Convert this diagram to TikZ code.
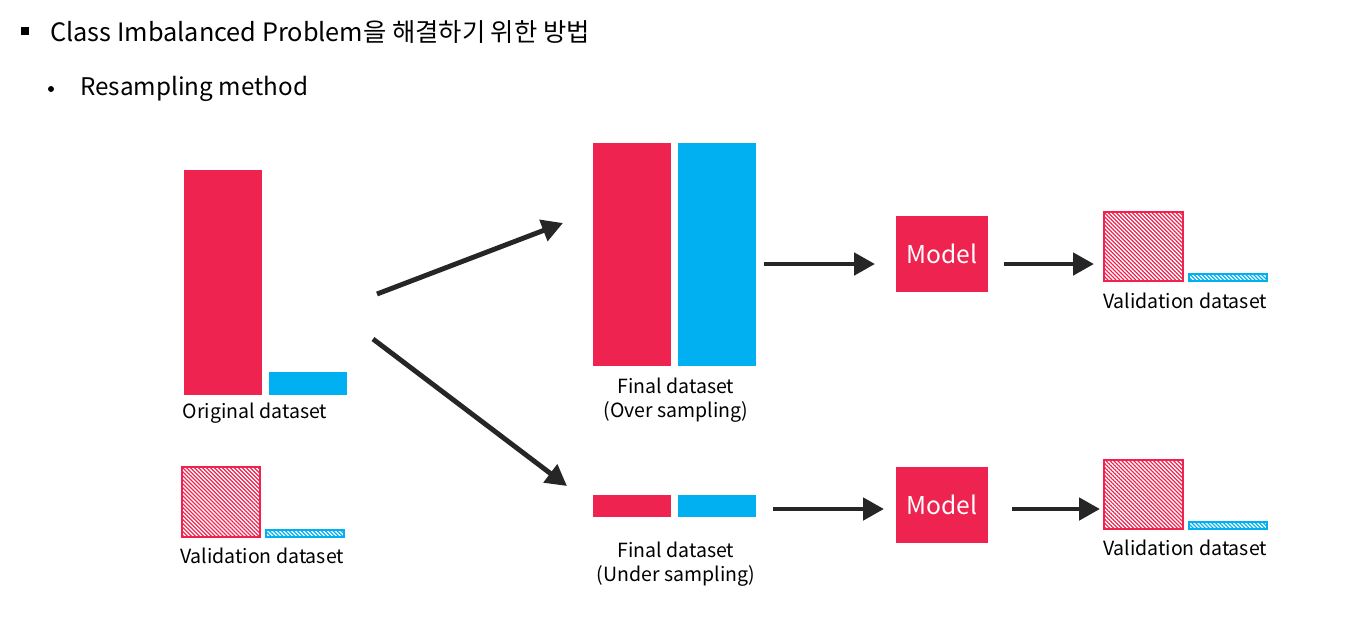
\documentclass[tikz,border=0pt]{standalone}
\usepackage{fontspec}
\setmainfont{Noto Sans CJK KR}
\usepackage{xcolor}
\usetikzlibrary{arrows.meta,patterns.meta}
\definecolor{barred}{HTML}{EE2350}
\definecolor{barblue}{HTML}{00B0F0}
\definecolor{arrgray}{HTML}{262626}
\tikzset{
  bar/.style={anchor=south west,inner sep=0pt,outer sep=0pt,minimum width=1.57cm},
  redbar/.style={bar,fill=barred},
  bluebar/.style={bar,fill=barblue},
  hatchred/.style={bar,draw=barred,line width=0.6pt,pattern={Lines[angle=-45,distance=1.6pt,line width=0.7pt]},pattern color=barred},
  hatchblue/.style={bar,draw=barblue,line width=0.6pt,pattern={Lines[angle=-45,distance=1.6pt,line width=0.7pt]},pattern color=barblue},
  model/.style={fill=barred,text=white,minimum width=1.84cm,minimum height=1.52cm,inner sep=0pt,font=\fontsize{14}{16}\selectfont},
  lbl/.style={align=center,font=\fontsize{11.1}{13.6}\selectfont},
  arr/.style={arrgray,line width=2.8pt,-{Triangle[length=0.42cm,width=0.44cm]}}
}
\begin{document}
\begin{tikzpicture}[x=0.02cm,y=-0.02cm]
\useasboundingbox (0,0) rectangle (1357,627);
% heading
\fill (21,27) rectangle (29,35);
\draw (50,32) node[anchor=west,inner sep=0pt,font=\fontsize{14.4}{17}\selectfont](title) {Class Imbalanced Problem을 해결하기 위한 방법};
\fill (51,89) circle (3);
\draw (80,89) node[anchor=west,inner sep=0pt,font=\fontsize{13.8}{17}\selectfont](resamp) {Resampling method};
% original dataset
\draw (184,395) node[redbar,minimum height=4.5cm](origR) {};
\draw (269,395) node[bluebar,minimum height=0.46cm](origB) {};
\draw (255,413) node[lbl](origL) {Original dataset};
\draw (182,537) node[hatchred,minimum width=1.56cm,minimum height=1.4cm](valR) {};
\draw (266,537) node[hatchblue,minimum width=1.56cm,minimum height=0.14cm](valB) {};
\draw (262,556) node[lbl](valL) {Validation dataset};
% over sampling
\draw (593,366) node[redbar,minimum height=4.46cm](overR) {};
\draw (678,366) node[bluebar,minimum height=4.46cm](overB) {};
\draw (676,400) node[lbl](overL) {Final dataset\\(Over sampling)};
\draw (942,254) node[model](modelA) {\raisebox{-2pt}{Model}};
\draw (1104,281) node[hatchred,minimum width=1.58cm,minimum height=1.38cm](valAR) {};
\draw (1189,281) node[hatchblue,minimum width=1.56cm,minimum height=0.14cm](valAB) {};
\draw (1185,301) node[lbl](valAL) {Validation dataset};
% under sampling
\draw (593,517) node[redbar,minimum height=0.44cm](underR) {};
\draw (678,517) node[bluebar,minimum height=0.44cm](underB) {};
\draw (676,564) node[lbl](underL) {Final dataset\\(Under sampling)};
\draw (942,505) node[model](modelB) {\raisebox{-2pt}{Model}};
\draw (1104,529) node[hatchred,minimum width=1.58cm,minimum height=1.38cm](valBR) {};
\draw (1189,529) node[hatchblue,minimum width=1.56cm,minimum height=0.14cm](valBB) {};
\draw (1185,548) node[lbl](valBL) {Validation dataset};
% arrows
\coordinate (upS) at (377,294);
\coordinate (upE) at (563,223);
\coordinate (dnS) at (373,339);
\coordinate (dnE) at (567,486);
\coordinate (oaS) at (764,264);
\coordinate (oaE) at (875,264);
\coordinate (obS) at (1004,264);
\coordinate (obE) at (1094,264);
\coordinate (uaS) at (773,509);
\coordinate (uaE) at (884,509);
\coordinate (ubS) at (1012,509);
\coordinate (ubE) at (1100,509);
\draw[arr] (upS) -- (upE);
\draw[arr] (dnS) -- (dnE);
\draw[arr] (oaS) -- (oaE);
\draw[arr] (obS) -- (obE);
\draw[arr] (uaS) -- (uaE);
\draw[arr] (ubS) -- (ubE);
\end{tikzpicture}
\end{document}
